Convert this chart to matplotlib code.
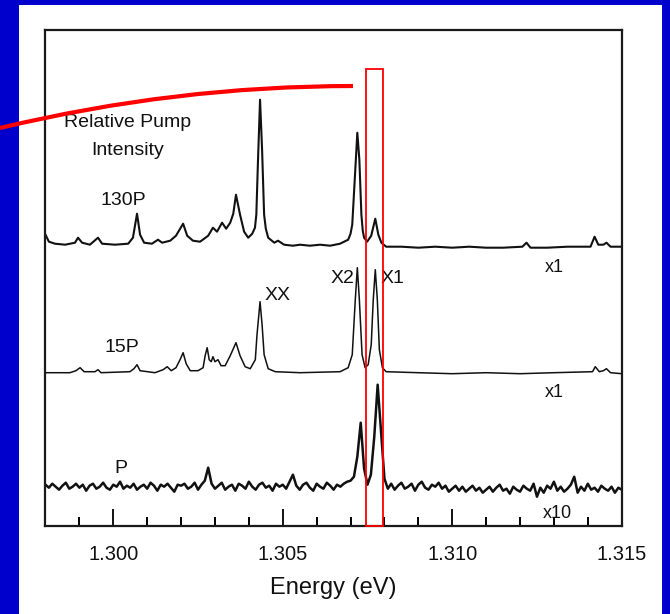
import numpy as np
import matplotlib
matplotlib.use("Agg")
import matplotlib.pyplot as plt
from matplotlib.patches import Rectangle, PathPatch
from matplotlib.path import Path
from matplotlib.ticker import MultipleLocator

plt.rcParams['font.family'] = ['Liberation Sans', 'DejaVu Sans']

# --- data (energy in eV, intensity in a.u.) ---
# 130P, relative to its own baseline
E_130P = [1.29800, 1.29810, 1.29828, 1.29858, 1.29887, 1.29896, 1.29908, 1.29931,
          1.29955, 1.29967, 1.30005, 1.30044, 1.30058, 1.30070, 1.30079, 1.30091,
          1.30114, 1.30132, 1.30144, 1.30168, 1.30185, 1.30206, 1.30218, 1.30235,
          1.30256, 1.30280, 1.30294, 1.30306, 1.30321, 1.30333, 1.30345, 1.30354,
          1.30362, 1.30374, 1.30386, 1.30398, 1.30410, 1.30418, 1.30422, 1.30427,
          1.30433, 1.30439, 1.30445, 1.30450, 1.30457, 1.30475, 1.30486, 1.30504,
          1.30530, 1.30551, 1.30580, 1.30610, 1.30640, 1.30669, 1.30693, 1.30700,
          1.30705, 1.30714, 1.30720, 1.30726, 1.30732, 1.30736, 1.30740, 1.30749,
          1.30761, 1.30773, 1.30782, 1.30791, 1.30805, 1.30850, 1.30900, 1.30950,
          1.31000, 1.31050, 1.31100, 1.31150, 1.31207, 1.31219, 1.31231, 1.31280,
          1.31340, 1.31408, 1.31420, 1.31431, 1.31446, 1.31455, 1.31467, 1.31500]
I_130P = [11, 4, 2, 1, 3, 8, 3, 1,
          8, 2, 1, 2, 8, 32, 11, 3,
          2, 6, 3, 5, 10, 22, 10, 5,
          4, 10, 18, 14, 23, 17, 23, 32,
          51, 31, 14, 8, 12, 18, 31, 86,
          146, 96, 31, 17, 8, 3, 5, 1,
          0, 1, 0, 1, 0, 2, 6, 12,
          21, 76, 113, 86, 31, 15, 8, 4,
          10, 27, 11, 3, -1, -1, -2, -1,
          -2, -1, -2, -2, -1, 3, -2, -2,
          -1, -1, 9, 1, 1, 3, -1, -1]

# 15P
E_15P = [1.29800, 1.29872, 1.29890, 1.29902, 1.29914, 1.29946, 1.29955, 1.29964,
         1.30049, 1.30061, 1.30070, 1.30079, 1.30123, 1.30147, 1.30159, 1.30171,
         1.30185, 1.30197, 1.30206, 1.30215, 1.30227, 1.30250, 1.30265, 1.30271,
         1.30277, 1.30283, 1.30289, 1.30294, 1.30300, 1.30309, 1.30318, 1.30330,
         1.30345, 1.30362, 1.30374, 1.30389, 1.30404, 1.30419, 1.30424, 1.30433,
         1.30439, 1.30445, 1.30457, 1.30478, 1.30551, 1.30669, 1.30693, 1.30705,
         1.30714, 1.30720, 1.30726, 1.30734, 1.30743, 1.30752, 1.30761, 1.30767,
         1.30773, 1.30779, 1.30785, 1.30794, 1.30805, 1.30900, 1.31000, 1.31100,
         1.31200, 1.31300, 1.31414, 1.31422, 1.31434, 1.31446, 1.31455, 1.31467,
         1.31500]
I_15P = [0, 0, 2, 5, 1, 1, 3, 0,
         1, 4, 8, 2, 0, 3, 6, 2,
         5, 13, 20, 9, 2, 2, 5, 17,
         25, 13, 11, 16, 11, 13, 7, 7,
         17, 30, 17, 6, 4, 13, 38, 71,
         48, 18, 4, 1, 0, 1, 5, 18,
         73, 105, 73, 18, 5, 8, 28, 73,
         103, 73, 23, 5, 1, 0, -1, 0,
         -1, 0, 1, 6, 1, 2, 4, 0,
         -1]

# P (x10), sampled every 0.1 meV from 1.298 eV
E_P_START = 1.298
E_P_STEP = 0.0001
I_P = [2, -1, 3, 0, -3, 1, 4, -2, 0, 3,
       -1, 2, -4, 1, 3, -2, 0, 4, -1, -3,
       2, 0, 5, -2, 1, -1, 3, -3, 0, 2,
       -2, 4, 1, -4, 2, 0, 3, -1, -5, 2,
       1, 3, -2, 0, 4, -3, 2, 6, 19, 3,
       -2, 1, 4, -3, 0, 2, -4, 3, 1, -2,
       5, 0, -3, 2, 4, -1, 1, -4, 3, 0,
       2, -2, 5, 12, 1, -3, 2, 4, -1, -4,
       3, 0, -2, 4, 1, -3, 2, 0, 3, 5,
       6, 10, 30, 64, 18, 2, 12, 50, 102, 55,
       8, -2, 3, -3, 1, 4, -2, 0, 3, -4,
       2, 5, -1, -3, 2, 0, 4, -2, 1, -5,
       -2, 1, -4, 0, -5, -2, 1, -4, -1, -6,
       -3, 0, -5, -1, 2, -4, -2, -7, 0, -3,
       -5, 1, -2, -4, 3, -10, -1, -6, 1, -2,
       5, -4, 0, -5, -2, 2, 10, -6, 0, -4,
       3, -3, -1, -5, 1, -2, -4, 0, -6, -1, -3]

offsets = [280, 153, 39]          # vertical stacking of the three spectra
line_widths = [1.5, 1.1, 1.8]

labels = ["Relative Pump", "Intensity", "130P", "15P", "P", "XX", "X2", "X1",
          "x1", "x1", "x10"]
label_x = [1.30042, 1.30041, 1.30029, 1.30026, 1.30023, 1.30486, 1.30675, 1.30823,
           1.31301, 1.31301, 1.31310]
label_y = [405.7, 377.7, 327.7, 180.7, 59.7, 232.7, 249.7, 249.7, 260.7, 135.7, 14.7]
label_size = [14, 14, 14, 14, 14, 14, 14, 14, 13, 13, 13]

# highlighted X1 window
band = (1.30747, 1.30797)
band_top = 457

E_P = E_P_START + E_P_STEP * np.arange(len(I_P))

fig = plt.figure(figsize=(6.7, 6.14), dpi=100, facecolor="#0000CC")
# white slide area inside the blue border
fig.add_artist(Rectangle((19 / 670, 0), (661.7 - 19) / 670, 1 - 5 / 614,
                         transform=fig.transFigure, facecolor="white",
                         edgecolor="none", zorder=0))

ax = fig.add_axes([45.5 / 670, 1 - 525.7 / 614, 576.2 / 670, 495.7 / 614])
ax.set_facecolor("white")

series = [(E_130P, I_130P), (E_15P, I_15P), (E_P, I_P)]
for (e, i), off, lw in zip(series, offsets, line_widths):
    ax.plot(e, np.array(i) + off, color="#111111", lw=lw, solid_joinstyle="round")

for t, x, y, s in zip(labels, label_x, label_y, label_size):
    ax.text(x, y, t, ha="center", va="center_baseline", fontsize=s, color="#111111")

ax.add_patch(Rectangle((band[0], 0), band[1] - band[0], band_top, fill=False,
                       edgecolor="red", lw=1.3, clip_on=False, zorder=5))

ax.set_xlim(1.298, 1.315)
ax.set_ylim(0, 495.7)
ax.xaxis.set_major_locator(MultipleLocator(0.005))
ax.xaxis.set_minor_locator(MultipleLocator(0.001))
ax.xaxis.set_major_formatter(matplotlib.ticker.FormatStrFormatter("%.3f"))
ax.set_yticks([])
ax.tick_params(axis="x", which="major", direction="in", length=12, width=1.4,
               labelsize=14.5, pad=14, colors="#111111")
ax.tick_params(axis="x", which="minor", direction="in", length=6.5, width=1.4)
for sp in ax.spines.values():
    sp.set_linewidth(1.6)
    sp.set_color("#1a1a1a")
ax.set_xlabel("Energy (eV)", fontsize=17, labelpad=9, color="#111111")

# red connector curve coming in from the left of the slide
W, H = 670, 614
pts = [(0, 128), (175, 86), (353, 86)]
verts = [(x / W, 1 - y / H) for x, y in pts]
curve = Path(verts, [Path.MOVETO, Path.CURVE3, Path.CURVE3])
fig.add_artist(PathPatch(curve, transform=fig.transFigure, facecolor="none",
                         edgecolor="red", lw=3, zorder=10))

fig.savefig("out.png", dpi=100, facecolor=fig.get_facecolor())
